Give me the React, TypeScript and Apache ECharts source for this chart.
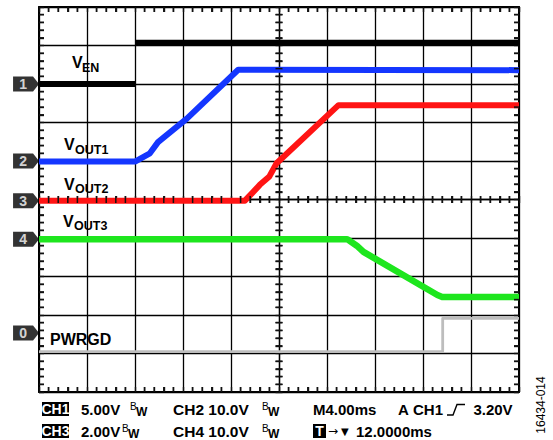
import React, { useEffect, useRef } from "react";
import * as echarts from "echarts";

// Scope traces, in screen divisions (x: 0..10 time divs, y: 0..10 vertical divs)
const venData: (number | null)[][] = [[0, 8.0], [2.0, 8.0], [2.0, null], [2.0, 9.07], [10, 9.07]];
const vout1Data = [[0, 5.99], [2.01, 5.99], [2.31, 6.2], [2.48, 6.49], [3.08, 7.1], [4.15, 8.37], [10, 8.36]];
const vout2Data = [[0, 4.97], [4.29, 4.97], [4.45, 5.18], [4.6, 5.38], [4.8, 5.6], [4.95, 5.94], [6.24, 7.45], [10, 7.45]];
const vout3Data = [[0, 3.97], [6.42, 3.97], [6.62, 3.8], [6.76, 3.64], [8.3, 2.52], [8.4, 2.47], [10, 2.47]];
const pwrgdData = [[0, 1.05], [8.41, 1.05], [8.41, 1.91], [10, 1.91]];

// Channel ground markers
const markerLabels = ["1", "2", "3", "4", "0"];
const markerLevels = [8.0, 6.0, 4.97, 3.97, 1.53];
const markerX = -0.27;

// Graticule: 10 x 10 divisions, 5 minor ticks per division
const DIVS = 10;
const MINOR_PER_DIV = 5;

const FONT = '"Liberation Sans", Arial, Helvetica, sans-serif';

function minorPositions(): number[] {
  const out: number[] = [];
  for (let k = 1; k < DIVS * MINOR_PER_DIV; k++) {
    if (k % MINOR_PER_DIV !== 0) out.push(k / MINOR_PER_DIV);
  }
  return out;
}

function txt(text: string, x: number, y: number, size: number, opts: any = {}) {
  const align = opts.align || "left";
  return {
    type: "text",
    x,
    y,
    rotation: opts.rotation || 0,
    z: 100,
    style: {
      text,
      fill: opts.fill || "#000",
      fontSize: size,
      fontWeight: opts.weight || "bold",
      fontFamily: opts.family || FONT,
      align,
      verticalAlign: "middle",
    },
  };
}

function axisCfg(position: string, offset: number, inside: boolean, line: boolean, split: boolean, len: number, lw: number) {
  return {
    type: "value",
    min: 0,
    max: DIVS,
    interval: 1,
    position,
    offset,
    axisLine: { show: line, onZero: false, lineStyle: { color: "#000", width: lw } },
    axisTick: { show: true, inside, length: len, lineStyle: { color: "#111", width: 1.4 } },
    minorTick: { show: true, splitNumber: MINOR_PER_DIV, length: len, lineStyle: { color: "#111", width: 1.4 } },
    axisLabel: { show: false },
    splitLine: { show: split, lineStyle: { color: "#000", width: 1.3 } },
    minorSplitLine: { show: false },
  };
}

export default function App() {
  const ref = useRef<HTMLDivElement>(null);
  useEffect(() => {
    if (!ref.current) return;
    const chart = echarts.init(ref.current, undefined, { renderer: "svg" });
    const traceLine = (name: string, data: any, color: string, width: number, z: number) => ({
      name,
      type: "line",
      data,
      showSymbol: false,
      symbol: "none",
      connectNulls: false,
      xAxisIndex: 0,
      yAxisIndex: 0,
      z,
      lineStyle: { color, width, join: "round" },
    });
    const mp = minorPositions();
    const tickSeries = (data: number[][], size: number[], offset: number[]) => ({
      type: "scatter",
      silent: true,
      clip: false,
      xAxisIndex: 0,
      yAxisIndex: 0,
      z: 50,
      symbol: "rect",
      symbolSize: size,
      symbolOffset: offset,
      itemStyle: { color: "#111", opacity: 1 },
      data,
    });

    const option: any = {
      animation: false,
      grid: { left: 39, top: 7, width: 480, height: 385 },
      xAxis: [
        axisCfg("bottom", 0, true, true, true, 5, 2),
        axisCfg("top", 0, true, true, false, 5, 2),
        axisCfg("bottom", -192.5, true, true, false, 3.5, 1.3),
        axisCfg("bottom", -192.5, false, false, false, 3.5, 1.3),
      ],
      yAxis: [
        axisCfg("left", 0, true, true, true, 5, 2),
        axisCfg("right", 0, true, true, false, 5, 2),
        axisCfg("left", -240, true, true, false, 3.5, 1.3),
        axisCfg("left", -240, false, false, false, 3.5, 1.3),
      ],
      series: [
        // traces
        traceLine("PWRGD", pwrgdData, "#bdbdbd", 2.8, 3),
        traceLine("VOUT3", vout3Data, "#1ee61e", 6.5, 4),
        traceLine("VOUT2", vout2Data, "#ff1414", 6, 5),
        traceLine("VOUT1", vout1Data, "#1436ff", 6, 6),
        traceLine("VEN", venData, "#000000", 6, 7),
        // graticule minor ticks
        tickSeries(mp.map((t) => [t, 0]), [1.5, 5], [0, -2.5]),
        tickSeries(mp.map((t) => [t, DIVS]), [1.5, 5], [0, 2.5]),
        tickSeries(mp.map((t) => [0, t]), [5, 1.5], [2.5, 0]),
        tickSeries(mp.map((t) => [DIVS, t]), [5, 1.5], [-2.5, 0]),
        tickSeries(mp.map((t) => [t, DIVS / 2]), [1.5, 7], [0, 0]),
        tickSeries(mp.map((t) => [DIVS / 2, t]), [7, 1.5], [0, 0]),
        {
          name: "markers",
          type: "scatter",
          clip: false,
          xAxisIndex: 0,
          yAxisIndex: 0,
          z: 60,
          symbol: "path://M0,0L20,0L26,7.5L20,15L0,15Z",
          symbolSize: [26, 15],
          itemStyle: { color: "#000" },
          label: {
            show: true,
            position: "inside",
            offset: [-3, 0],
            color: "#fff",
            fontWeight: "bold",
            fontSize: 14,
            fontFamily: FONT,
            formatter: (p: any) => p.value[2],
          },
          data: markerLabels.map((l, i) => [markerX, markerLevels[i], l]),
        },
      ],
      graphic: [
        // trace labels
        txt("V", 72, 62, 16),
        txt("EN", 82, 67.5, 12.5),
        txt("V", 64, 144.5, 16),
        txt("OUT1", 75, 150, 12.5),
        txt("V", 64, 184, 16),
        txt("OUT2", 75, 189, 12.5),
        txt("V", 63, 221, 16),
        txt("OUT3", 74, 226, 12.5),
        txt("PWRGD", 50, 339, 16),
        // bottom status row 1
        { type: "rect", z: 100, shape: { x: 42, y: 402, width: 27, height: 14 }, style: { fill: "#000" } },
        txt("CH1", 55.5, 409, 14, { fill: "#fff", align: "center" }),
        txt("5.00V", 81, 409, 15),
        txt("B", 130, 406.5, 10, { weight: "normal" }),
        txt("W", 136, 411.5, 12),
        txt("CH2 10.0V", 173, 409, 15.5),
        txt("B", 262, 406.5, 10, { weight: "normal" }),
        txt("W", 268, 411.5, 12),
        txt("M4.00ms", 313, 409, 15),
        txt("A", 398, 409, 15),
        txt("CH1", 413, 409, 15),
        {
          type: "polyline",
          z: 100,
          shape: { points: [[447, 415], [453, 415], [457, 404.5], [465, 404.5]] },
          style: { stroke: "#000", lineWidth: 1.4, fill: null },
        },
        txt("3.20V", 493, 409, 15, { align: "center" }),
        // bottom status row 2
        { type: "rect", z: 100, shape: { x: 42, y: 424, width: 27, height: 14 }, style: { fill: "#000" } },
        txt("CH3", 55.5, 431, 14, { fill: "#fff", align: "center" }),
        txt("2.00V", 81, 431, 15),
        txt("B", 122, 428.5, 10, { weight: "normal" }),
        txt("W", 128, 433.5, 12),
        txt("CH4 10.0V", 173, 431, 15.5),
        txt("B", 262, 428.5, 10, { weight: "normal" }),
        txt("W", 268, 433.5, 12),
        { type: "rect", z: 100, shape: { x: 313, y: 424, width: 13, height: 14 }, style: { fill: "#000" } },
        txt("T", 319.5, 431, 14, { fill: "#fff", align: "center" }),
        txt("→", 328, 431, 12, { weight: "normal", family: "DejaVu Sans" }),
        txt("▼", 341, 431, 10, { weight: "normal", family: "DejaVu Sans" }),
        txt("12.0000ms", 356, 431, 15),
        // figure id
        txt("16434-014", 541, 405, 12, { weight: "normal", align: "center", rotation: Math.PI / 2 }),
      ],
    };
    chart.setOption(option);
    return () => chart.dispose();
  }, []);
  return (
    <div
      ref={ref}
      style={{ position: "absolute", left: 0, top: 0, width: 553, height: 440, background: "#fff" }}
    />
  );
}
